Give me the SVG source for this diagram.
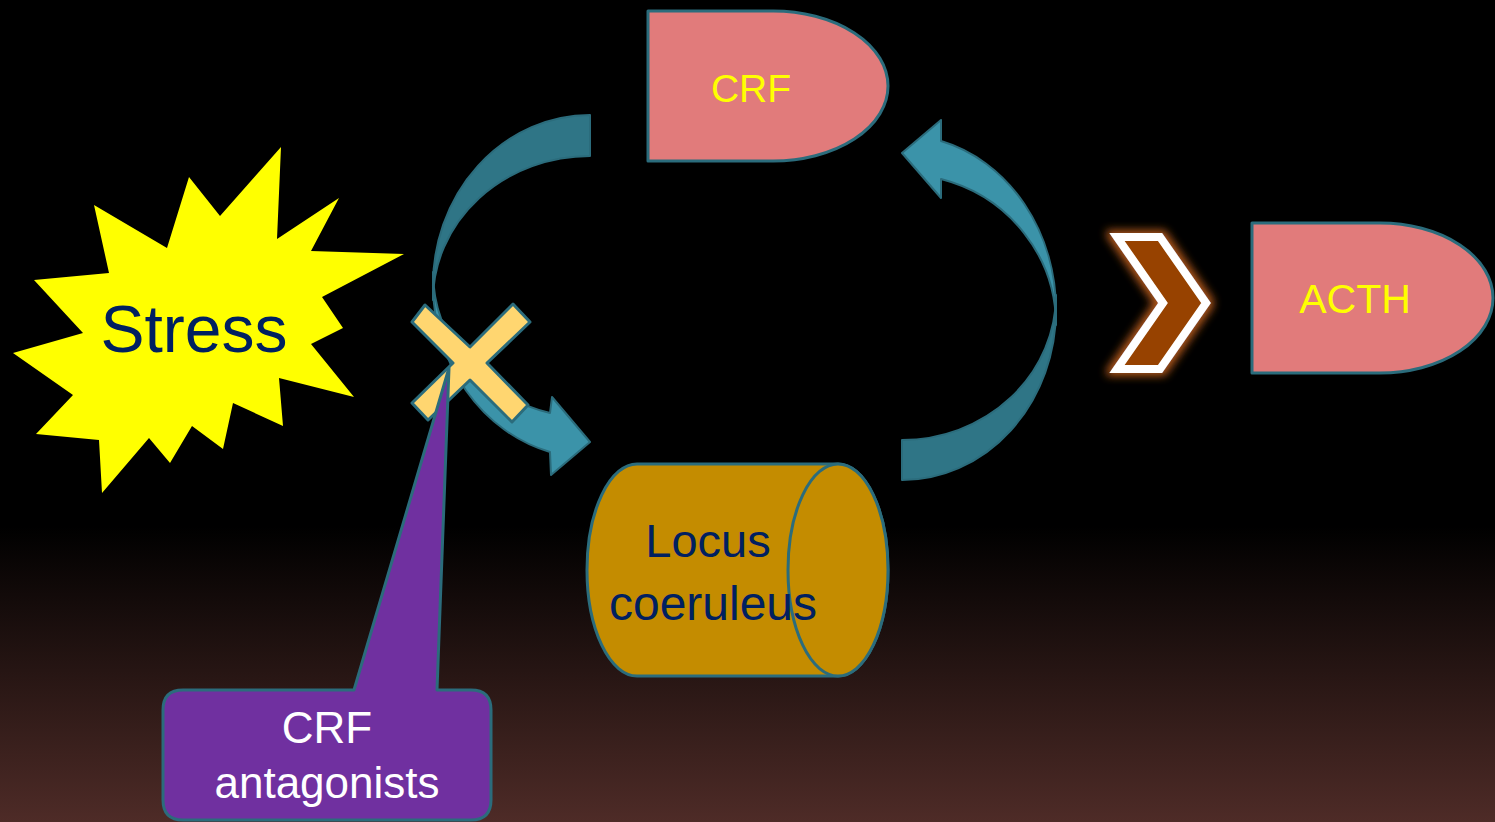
<svg xmlns="http://www.w3.org/2000/svg" width="1495" height="822" viewBox="0 0 1495 822">
<defs>
<linearGradient id="bg" x1="0" y1="0" x2="0" y2="1">
<stop offset="0" stop-color="#000"/>
<stop offset="0.64" stop-color="#000"/>
<stop offset="1" stop-color="#4e2b27"/>
</linearGradient>
<filter id="glow" x="-30%" y="-30%" width="160%" height="160%">
<feMorphology in="SourceAlpha" operator="dilate" radius="3" result="d"/>
<feGaussianBlur in="d" stdDeviation="4" result="b"/>
<feFlood flood-color="#c2601c" flood-opacity="0.9"/>
<feComposite in2="b" operator="in" result="g"/>
<feMerge><feMergeNode in="g"/><feMergeNode in="SourceGraphic"/></feMerge>
</filter>
</defs>
<style>
.st{stroke:#2b6c7c;stroke-width:3;stroke-linejoin:round}
.dark{fill:#2f7586;stroke:#2b6c7c;stroke-width:2;stroke-linejoin:round}
.light{fill:#3b93a9;stroke:#2b6c7c;stroke-width:2;stroke-linejoin:round}
.pink{fill:#e17b7b}
.t{font-family:"Liberation Sans",Arial,sans-serif;text-anchor:middle}
.yel{fill:#ffff00}
.navy{fill:#002060}
.wh{fill:#ffffff}
</style>
<rect x="0" y="0" width="1495" height="822" fill="url(#bg)"/>

<g id="connectors">
<g id="arrow-left">
<path class="light" d="M433,285 A157,174 0 0 0 550,452 L551,475 L590,442 L552,397 L550,413 A157,146 0 0 1 433,272 Z"/>
<path class="dark" d="M590,115 A157,170 0 0 0 433,288 L433,300 A157,144 0 0 1 590,156 Z"/>
</g>
<g id="arrow-right">
<path class="dark" d="M1056,310 A154,170 0 0 1 902,480 L902,440 A154,145 0 0 0 1056,295 Z"/>
<path class="light" d="M941,141 A154,175 0 0 1 1056,312 L1056,325 A154,151 0 0 0 941,179 L941,198 L902,153 L941,120 Z"/>
</g>
<g id="chevron">
<polygon points="1117,237 1160,237 1206,303 1160,369 1117,369 1163,303" fill="#974300" stroke="#ffffff" stroke-width="8" stroke-linejoin="miter" filter="url(#glow)"/>
</g>
</g>

<g id="stress">
<polygon fill="#ffff00" points="281,147 277,239 339,198 311,251 404,254 322,297 343,328 311,344 354,397 279,378 283,426 233,403 223,449 192,426 170,463 149,438 102,493 99,440 36,434 73,395 13,353 83,333 34,280 109,273 94,205 167,248 189,177 220,216"/>
<text class="t navy" x="194" y="352" font-size="66">Stress</text>
</g>

<g id="crf">
<path class="pink st" d="M648,11 L773,11 A115,75 0 0 1 773,161 L648,161 Z"/>
<text class="t yel" x="751" y="102" font-size="39">CRF</text>
</g>

<g id="acth">
<path class="pink st" d="M1252,223 L1380,223 A113,75 0 0 1 1380,373 L1252,373 Z"/>
<text class="t yel" x="1355" y="313" font-size="41">ACTH</text>
</g>

<g id="locus">
<path class="st" fill="#c48c00" d="M637,464 L838,464 A50,106 0 0 1 838,676 L637,676 A50,106 0 0 1 637,464 Z"/>
<ellipse class="st" fill="#c48c00" cx="838" cy="570" rx="50" ry="106"/>
<text class="t navy" x="708" y="557" font-size="47">Locus</text>
<text class="t navy" x="713" y="620" font-size="48">coeruleus</text>
</g>

<g id="block-x">
<polygon class="st" fill="#ffd670" points="412,322 425,305 470,347 513,304 530,322 487,363 528,405 512,422 470,380 428,420 412,403 453,363"/>
</g>

<g id="crf-antagonists">
<path class="st" fill="#7030a0" d="M183,690 L354,690 L449,368 L437,690 L471,690 Q491,690 491,710 L491,800 Q491,820 471,820 L183,820 Q163,820 163,800 L163,710 Q163,690 183,690 Z"/>
<text class="t wh" x="327" y="743" font-size="44">CRF</text>
<text class="t wh" x="327" y="798" font-size="44">antagonists</text>
</g>
</svg>
